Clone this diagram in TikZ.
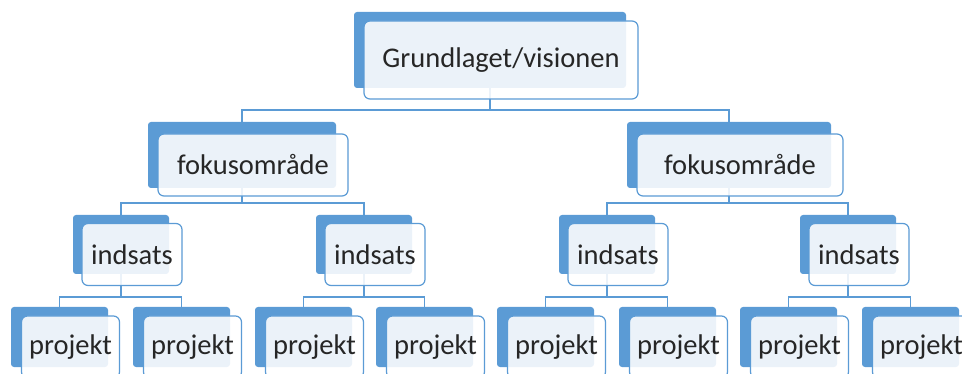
\documentclass[tikz,border=0pt]{standalone}
\usepackage{fontspec}
\setmainfont{Carlito}
\usetikzlibrary{backgrounds}
\definecolor{blu}{RGB}{91,155,213}

\begin{document}
\begin{tikzpicture}[x=1pt,y=-1pt]
	\tikzstyle{back}=[rectangle, fill=blu, rounded corners=3pt, inner sep=0pt]
	\tikzstyle{front}=[rectangle, draw=blu, line width=1.2pt, fill=white, fill opacity=0.88, text opacity=1, rounded corners=6pt, inner sep=0pt, text=black!85, font=\fontsize{28.5}{32}\selectfont, xshift=11pt, yshift=-10pt]
	\tikzstyle{link}=[draw=blu, line width=1.5pt]
	\tikzstyle{s0}=[minimum width=272pt, minimum height=76pt]
	\tikzstyle{s1}=[minimum width=188pt, minimum height=66pt]
	\tikzstyle{s2}=[minimum width=96pt, minimum height=59pt]
	\tikzstyle{s3}=[minimum width=97pt, minimum height=60pt]

	\useasboundingbox (0,0) rectangle (962,374);
	\clip (0,0) rectangle (962,374);

	% top
	\node[back,s0] (vision) at (490,50) {};
	\node[front,s0,minimum width=274pt,minimum height=78pt] (visionT) at (vision) {Grundlaget/visionen};

	% fokusomraader
	\node[back,s1] (fok1) at (242,155) {};
	\node[front,s1,minimum width=190pt,minimum height=62pt] (fokT1) at (fok1) {fokusområde};
	\node[back,s1,minimum width=204pt] (fok2) at (729,155) {};
	\node[front,s1,minimum width=206pt,minimum height=62pt] (fokT2) at (fok2) {fokusområde};

	% indsatser
	\node[back,s2] (ind1) at (121,244.5) {};
	\node[front,s2,minimum width=100pt,minimum height=62pt] (indT1) at (ind1) {indsats};
	\node[back,s2] (ind2) at (364,244.5) {};
	\node[front,s2,minimum width=100pt,minimum height=62pt] (indT2) at (ind2) {indsats};
	\node[back,s2] (ind3) at (607,244.5) {};
	\node[front,s2,minimum width=100pt,minimum height=62pt] (indT3) at (ind3) {indsats};
	\node[back,s2] (ind4) at (848,244.5) {};
	\node[front,s2,minimum width=100pt,minimum height=62pt] (indT4) at (ind4) {indsats};

	% projekter
	\node[back,s3] (proj1) at (59.5,337) {};
	\node[front,s3,minimum width=98pt,minimum height=62pt] (projT1) at (proj1) {projekt};
	\node[back,s3] (proj2) at (181.5,337) {};
	\node[front,s3,minimum width=98pt,minimum height=62pt] (projT2) at (proj2) {projekt};
	\node[back,s3] (proj3) at (303.5,337) {};
	\node[front,s3,minimum width=98pt,minimum height=62pt] (projT3) at (proj3) {projekt};
	\node[back,s3] (proj4) at (424.5,337) {};
	\node[front,s3,minimum width=98pt,minimum height=62pt] (projT4) at (proj4) {projekt};
	\node[back,s3] (proj5) at (545.5,337) {};
	\node[front,s3,minimum width=98pt,minimum height=62pt] (projT5) at (proj5) {projekt};
	\node[back,s3] (proj6) at (667.5,337) {};
	\node[front,s3,minimum width=98pt,minimum height=62pt] (projT6) at (proj6) {projekt};
	\node[back,s3] (proj7) at (788.5,337) {};
	\node[front,s3,minimum width=98pt,minimum height=62pt] (projT7) at (proj7) {projekt};
	\node[back,s3] (proj8) at (910.5,337) {};
	\node[front,s3,minimum width=98pt,minimum height=62pt] (projT8) at (proj8) {projekt};

	\begin{scope}[on background layer]
		\foreach \from/\to/\d in {vision/fok1/22,vision/fok2/22,fok1/ind1/15,fok1/ind2/15,fok2/ind3/15,fok2/ind4/15,ind1/proj1/23,ind1/proj2/23,ind2/proj3/23,ind2/proj4/23,ind3/proj5/23,ind3/proj6/23,ind4/proj7/23,ind4/proj8/23}
		\draw[link] (\from.south) -- ++(0,\d) -| (\to.north);
	\end{scope}
\end{tikzpicture}
\end{document}
